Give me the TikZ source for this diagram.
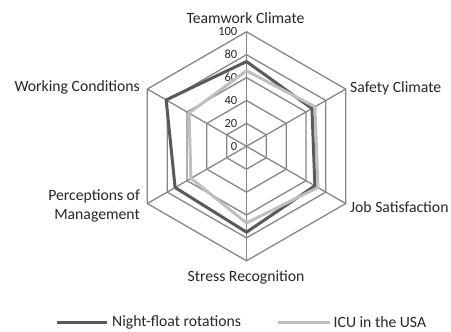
\documentclass[tikz,border=0pt]{standalone}
\usepackage{fontspec}
\setmainfont{Carlito}
\usetikzlibrary{calc}
\definecolor{gridc}{HTML}{868686}
\definecolor{darkc}{HTML}{595959}
\definecolor{lightc}{HTML}{BFBFBF}
\definecolor{txtc}{HTML}{262626}
\begin{document}
\begin{tikzpicture}[x=1pt,y=1pt,
  gridline/.style={draw=gridc, line width=1.3pt, line join=miter},
  seriesA/.style={draw=darkc, line width=3pt, line join=round},
  seriesB/.style={draw=lightc, line width=3pt, line join=round},
  axlabel/.style={font=\fontsize{15.7}{18.3}\selectfont, text=txtc, inner sep=0pt},
  ticklabel/.style={font=\fontsize{12.5}{14}\selectfont, text=txtc, inner sep=0pt, anchor=east}]
\useasboundingbox (0,0) rectangle (451,332);
\coordinate (C) at (246.5,185.7);
% grid hexagons
\foreach \r in {20,40,60,80,100} {
  \draw[gridline] ($(C)+(90:1.145*\r)$) -- ($(C)+(30:1.145*\r)$) -- ($(C)+(-30:1.145*\r)$)
    -- ($(C)+(-90:1.145*\r)$) -- ($(C)+(210:1.145*\r)$) -- ($(C)+(150:1.145*\r)$) -- cycle;
}
% spokes
\foreach \a/\n in {90/tc,30/sc,-30/js,-90/sr,210/pm,150/wc} {
  \coordinate (\n) at ($(C)+(\a:114.5)$);
  \draw[gridline] (C) -- (\n);
}
% tick labels
\foreach \v in {0,20,40,60,80,100} {
  \node[ticklabel] (t\v) at ($(C)+(-9,1.145*\v)$) {\v};
}
% series
\draw[seriesA] ($(C)+(90:1.145*74)$) -- ($(C)+(30:1.145*66)$) -- ($(C)+(-30:1.145*69)$)
  -- ($(C)+(-90:1.145*75)$) -- ($(C)+(210:1.145*72)$) -- ($(C)+(150:1.145*81)$) -- cycle;
\draw[seriesB] ($(C)+(90:1.145*66)$) -- ($(C)+(30:1.145*69)$) -- ($(C)+(-30:1.145*72)$)
  -- ($(C)+(-90:1.145*67)$) -- ($(C)+(210:1.145*56)$) -- ($(C)+(150:1.145*58)$) -- cycle;
% axis labels
\node[axlabel] (ltc) at (245.5,314) {Teamwork Climate};
\node[axlabel, anchor=west] (lsc) at (350,244) {Safety Climate};
\node[axlabel, anchor=west] (ljs) at (350,125) {Job Satisfaction};
\node[axlabel] (lsr) at (246,55) {Stress Recognition};
\node[axlabel, anchor=east, align=right] (lpm) at (140,126) {Perceptions of\\Management};
\node[axlabel, anchor=east] (lwc) at (140,245) {Working Conditions};
% legend
\coordinate (la1) at (56.7,9.7);
\coordinate (la2) at (106.7,9.7);
\coordinate (lb1) at (278.3,9.7);
\coordinate (lb2) at (330,9.7);
\draw[seriesA] (la1) -- (la2);
\draw[seriesB] (lb1) -- (lb2);
\node[axlabel, anchor=west] (lega) at (112,9.7) {Night-float rotations};
\node[axlabel, anchor=west] (legb) at (333.5,9.7) {ICU in the USA};
\end{tikzpicture}
\end{document}
